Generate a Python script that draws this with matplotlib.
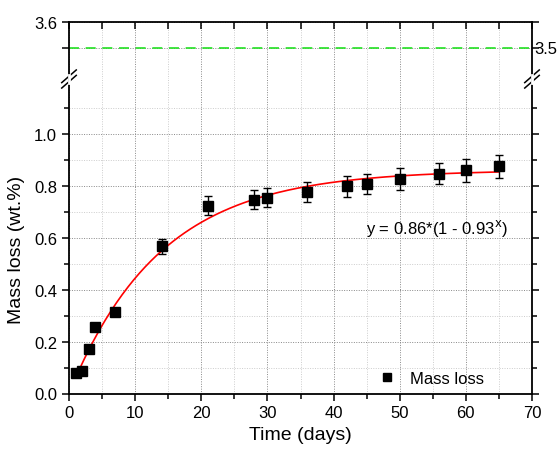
import numpy as np
import matplotlib.pyplot as plt
from matplotlib.ticker import MultipleLocator

plt.rcParams['font.family'] = ['Liberation Sans', 'DejaVu Sans']

# measured mass loss
days = [1, 2, 3, 4, 7, 14, 21, 28, 30, 36, 42, 45, 50, 56, 60, 65]
mass_loss = [0.077, 0.086, 0.17, 0.254, 0.315, 0.567, 0.723, 0.746, 0.753,
             0.774, 0.797, 0.806, 0.826, 0.845, 0.859, 0.874]
err = [0.005, 0.005, 0.008, 0.008, 0.01, 0.029, 0.035, 0.037, 0.037,
       0.039, 0.04, 0.04, 0.042, 0.04, 0.044, 0.044]
# fit y = a*(1 - b^x)
fit_a = 0.86
fit_b = 0.93
ref_level = 3.5
y_ticks = [0.0, 0.2, 0.4, 0.6, 0.8, 1.0]

fig = plt.figure(figsize=(5.58, 4.52), dpi=100)
L, W = 69 / 558, (532 - 69) / 558
yb, ybrk, yt = 1 - 394.5 / 452, 1 - 80 / 452, 1 - 23.3 / 452
ax = fig.add_axes([L, yb, W, ybrk - yb])
axt = fig.add_axes([L, ybrk, W, yt - ybrk], sharex=ax)

xf = np.linspace(1, 65, 300)
ax.plot(xf, fit_a * (1 - fit_b ** xf), color='red', lw=1.2, zorder=3)
ax.errorbar(days, mass_loss, yerr=err, fmt='s', color='black', ms=7,
            ecolor='black', elinewidth=1, capsize=3, capthick=1, zorder=4)
ax.plot([], [], 's', color='black', ms=6, label='Mass loss')

ax.set_xlim(0, 70)
ax.set_ylim(0, 1.21)
axt.set_ylim(3.382, 3.6)
axt.axhline(ref_level, color='#22e022', lw=1.2, dashes=(6, 4))

for a in (ax, axt):
    a.xaxis.set_major_locator(MultipleLocator(10))
    a.xaxis.set_minor_locator(MultipleLocator(5))
    a.grid(True, which='major', color='#888888', ls=(0, (1, 1.5)), lw=0.7)
    a.grid(True, which='minor', color='#cccccc', ls=(0, (1, 1.5)), lw=0.7)
    a.set_axisbelow(True)
    for s in a.spines.values():
        s.set_linewidth(1.3)
    a.tick_params(which='both', left=True, right=True, top=True, bottom=True,
                  labelsize=12, width=1.1)
    a.tick_params(axis='both', which='both', direction='in')
    a.tick_params(axis='y', which='both', left=True, direction='out')

ax.set_yticks(y_ticks, labels=[f'{v:.1f}' for v in y_ticks])
ax.set_yticks([0.1, 0.3, 0.5, 0.7, 0.9, 1.1], minor=True)
ax.tick_params(axis='x', which='both', direction='out', top=False)
ax.tick_params(which='major', length=5)
ax.tick_params(which='minor', length=3.5)
ax.spines['top'].set_visible(False)

axt.spines['bottom'].set_visible(False)
axt.tick_params(axis='x', which='both', bottom=False, labelbottom=False, length=5)
axt.tick_params(axis='y', which='major', length=5)
axt.set_yticks([3.5, 3.6], labels=['', '3.6'])
axt.yaxis.set_minor_locator(MultipleLocator(1))
axt.text(1.005, ref_level, '3.5', transform=axt.get_yaxis_transform(),
         va='center', ha='left', fontsize=12)

# break marks
for xb in (L, L + W):
    for dy in (-0.006, 0.006):
        fig.add_artist(plt.Line2D([xb - 0.013, xb + 0.013],
                                  [ybrk + dy - 0.014, ybrk + dy + 0.014],
                                  color='black', lw=1.1))
    fig.add_artist(plt.Line2D([xb, xb], [ybrk - 0.008, ybrk + 0.008],
                              color='white', lw=2))

ax.text(55.6, 0.637, r'y = 0.86*(1 - 0.93$^{\mathrm{x}}$)',
        ha='center', va='center', fontsize=12)
ax.set_xlabel('Time (days)', fontsize=14)
ax.set_ylabel('Mass loss (wt.%)', fontsize=14)
ax.yaxis.set_label_coords(-0.095, 0.46)
ax.legend(loc='center left', frameon=False, fontsize=12, borderpad=0,
          handlelength=1.2, handletextpad=0.75,
          bbox_to_anchor=(0.648, 0.049))

fig.savefig('out.png', dpi=100)
